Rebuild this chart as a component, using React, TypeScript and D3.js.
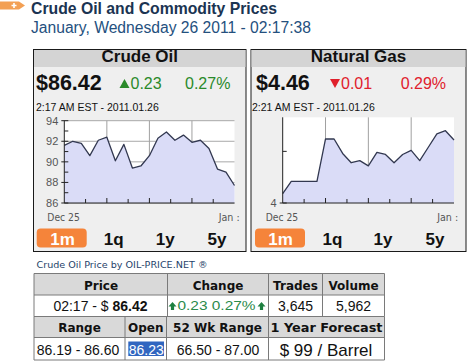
import React from "react";
import * as d3 from "d3";

const crudeValues = [91.6, 92.0, 91.8, 90.6, 92.1, 92.4, 90.1, 91.7, 89.4, 89.6, 90.6, 92.3, 92.9, 92.1, 92.6, 91.9, 92.1, 91.3, 89.3, 89.0, 87.7];
const gasValues = [4.09, 4.21, 4.21, 4.21, 4.21, 4.62, 4.62, 4.48, 4.39, 4.41, 4.36, 4.49, 4.47, 4.39, 4.47, 4.51, 4.41, 4.54, 4.67, 4.70, 4.61];
const crudeTicks = [86, 88, 90, 92, 94];
const crudeMinorTicks = [87, 89, 91, 93];
const gasTicks = [4];
const gasMinorTicks = [4.5];
const xStartLabel = "Dec 25";
const xEndLabel = "Jan :";
const ranges = ["1m", "1q", "1y", "5y"];

const SANS = "'Liberation Sans', Arial, sans-serif";
const VERD = "'DejaVu Sans', Verdana, sans-serif";

type ChartProps = {
  id: string;
  values: number[];
  domain: [number, number];
  x0: number; x1: number; y0: number; y1: number;
  ticks: number[]; minor: number[]; hGrid: boolean;
  labelStartX: number; labelEndX: number;
};

function MiniChart(p: ChartProps) {
  const x = d3.scaleLinear().domain([0, p.values.length - 1]).range([p.x0, p.x1]);
  const y = d3.scaleLinear().domain(p.domain).range([p.y1, p.y0]);
  const area = d3.area<number>().x((_, i) => x(i)).y0(p.y1).y1((d) => y(d));
  const line = d3.line<number>().x((_, i) => x(i)).y((d) => y(d));
  const n = p.values.length - 1;
  const vGrid = [n / 4, n / 2, (3 * n) / 4];
  const minorX = [n / 8, (3 * n) / 8, (5 * n) / 8, (7 * n) / 8];
  return (
    <g>
      <rect x={p.x0} y={p.y0} width={p.x1 - p.x0} height={p.y1 - p.y0} fill="#ffffff" />
      {p.hGrid && p.ticks.map((t) => (
        <line key={t} x1={p.x0} x2={p.x1} y1={y(t)} y2={y(t)} stroke="#a8a8a8" strokeWidth={1} />
      ))}
      {vGrid.map((g) => (
        <line key={g} x1={x(g)} x2={x(g)} y1={p.y0} y2={p.y1} stroke="#a0a0a0" strokeWidth={1} />
      ))}
      <path d={area(p.values) || ""} fill="#dadcf7" />
      <path d={line(p.values) || ""} fill="none" stroke="#323850" strokeWidth={1.3} strokeLinejoin="round" />
      <line x1={p.x0} x2={p.x0} y1={p.y0} y2={p.y1} stroke="#222" strokeWidth={1} />
      <line x1={p.x0} x2={p.x1} y1={p.y1} y2={p.y1} stroke="#222" strokeWidth={1} />
      {p.ticks.map((t) => (
        <g key={t}>
          <line x1={p.x0 - 3} x2={p.x0 + 4} y1={y(t)} y2={y(t)} stroke="#222" />
          <text x={p.x0 - 6} y={y(t) + 4} textAnchor="end" fontFamily={SANS} fontSize={11} fill="#555">{t}</text>
        </g>
      ))}
      {p.minor.map((t) => (
        <line key={t} x1={p.x0} x2={p.x0 + 4} y1={y(t)} y2={y(t)} stroke="#222" />
      ))}
      {minorX.map((m) => (
        <line key={m} x1={x(m)} x2={x(m)} y1={p.y1 - 4} y2={p.y1} stroke="#222" />
      ))}
      {vGrid.map((g) => (
        <line key={"t" + g} x1={x(g)} x2={x(g)} y1={p.y1 - 5} y2={p.y1} stroke="#222" />
      ))}
      <text x={p.labelStartX} y={221} fontFamily={VERD} fontSize={10} fill="#555" textLength={32.5} lengthAdjust="spacingAndGlyphs">{xStartLabel}</text>
      <text x={p.labelEndX} y={221} fontFamily={VERD} fontSize={10} fill="#555" textLength={21} lengthAdjust="spacingAndGlyphs">{xEndLabel}</text>
    </g>
  );
}

type PanelProps = {
  left: number; right: number; title: string; price: string; change: string; pct: string;
  up: boolean; stamp: string; stampX: number;
  priceX: number; changeX: number; pctX: number;
  btnX: number; btnCenters: number[];
  children: React.ReactNode;
};

function Panel(p: PanelProps) {
  const color = p.up ? "#2a8a2a" : "#e0202c";
  const cx = (p.left + p.right) / 2;
  return (
    <g>
      <rect x={p.left} y={49.5} width={p.right - p.left} height={202} fill="#efefef" stroke="#1a1a1a" strokeWidth={1} />
      <rect x={p.left + 0.5} y={50} width={p.right - p.left - 1} height={17} fill="#d4d4d4" />
      <text x={cx} y={62} textAnchor="middle" fontFamily={SANS} fontWeight="bold" fontSize={17} fill="#111">{p.title}</text>
      <text x={p.priceX} y={90} fontFamily={SANS} fontWeight="bold" fontSize={21.5} fill="#111">{p.price}</text>
      <g>
        {p.up ? (
          <path d={`M${p.changeX},88 L${p.changeX + 5},79 L${p.changeX + 10},88 Z`} fill={color} />
        ) : (
          <path d={`M${p.changeX},79 L${p.changeX + 10},79 L${p.changeX + 5},88 Z`} fill={color} />
        )}
        <text x={p.changeX + 11} y={88.5} fontFamily={SANS} fontSize={16} fill={color}>{p.change}</text>
      </g>
      <text x={p.pctX} y={88.5} fontFamily={SANS} fontSize={16} fill={color}>{p.pct}</text>
      <text x={p.stampX} y={111} fontFamily={SANS} fontSize={10.5} fill="#111">{p.stamp}</text>
      {p.children}
      <rect x={p.btnX} y={228.5} width={50} height={19} rx={4} fill="#f5843a" />
      {ranges.map((r, i) => (
        <text key={r} x={p.btnCenters[i]} y={245} textAnchor="middle" fontFamily={SANS} fontWeight="bold" fontSize={17} fill={i === 0 ? "#ffffff" : "#111"}>{r}</text>
      ))}
    </g>
  );
}

const cols1 = [34, 167.5, 268.5, 322.5, 384.5];
const cols2 = [34, 125, 166.5, 268.5, 384.5];
const rowsY = [273.5, 295, 316.5, 337.5, 360];

function UpArrow({ x, y }: { x: number; y: number }) {
  return <path d={`M${x},${y} L${x + 4},${y + 4.5} L${x + 1.6},${y + 4.5} L${x + 1.6},${y + 8} L${x - 1.6},${y + 8} L${x - 1.6},${y + 4.5} L${x - 4},${y + 4.5} Z`} fill="#1e8040" />;
}

export default function App() {
  return (
    <svg width={467} height={362} style={{ position: "absolute", left: 0, top: 0, background: "#fff" }}>
      {/* header */}
      <path d="M0,1.5 L19,1.5 L25,5.5 L19,9.5 L0,9.5 Z" fill="#f3a054" />
      <path d="M11.5,5.5 L16.5,5.5 M14,3 L14,8" stroke="#fff" strokeWidth={1.6} />
      <text x={31} y={13.5} fontFamily={SANS} fontWeight="bold" fontSize={17} fill="#1b3452" textLength={246} lengthAdjust="spacingAndGlyphs">Crude Oil and Commodity Prices</text>
      <text x={31} y={33} fontFamily={SANS} fontSize={16} fill="#24507e" textLength={280} lengthAdjust="spacingAndGlyphs">January, Wednesday 26 2011 - 02:17:38</text>

      <Panel left={33.5} right={246} title="Crude Oil" price="$86.42" change="0.23" pct="0.27%" up={true}
        stamp="2:17 AM EST - 2011.01.26" stampX={36} priceX={36} changeX={119.5} pctX={185}
        btnX={36.7} btnCenters={[62.5, 113.7, 165.3, 217]}>
        <MiniChart id="c1" values={crudeValues} domain={[86, 94]} x0={64.3} x1={234.5} y0={120.7} y1={203}
          ticks={crudeTicks} minor={crudeMinorTicks} hGrid={true} labelStartX={47.3} labelEndX={218.7} />
      </Panel>
      <Panel left={251} right={466} title="Natural Gas" price="$4.46" change="0.01" pct="0.29%" up={false}
        stamp="2:21 AM EST - 2011.01.26" stampX={252} priceX={256} changeX={330} pctX={400.7}
        btnX={255} btnCenters={[280.5, 332.5, 383, 435]}>
        <MiniChart id="c2" values={gasValues} domain={[4, 4.83]} x0={282.7} x1={454} y0={117.3} y1={203}
          ticks={gasTicks} minor={gasMinorTicks} hGrid={false} labelStartX={265.7} labelEndX={437.2} />
      </Panel>

      {/* table */}
      <text x={36.5} y={267.5} fontFamily={VERD} fontSize={9} fill="#1f3f6a" textLength={171} lengthAdjust="spacingAndGlyphs">Crude Oil Price by OIL-PRICE.NET ®</text>
      <rect x={34} y={rowsY[0]} width={350.5} height={rowsY[1] - rowsY[0]} fill="#d9d9d9" />
      <rect x={34} y={rowsY[2]} width={350.5} height={rowsY[3] - rowsY[2]} fill="#d9d9d9" />
      <rect x={128.3} y={341.5} width={35.7} height={14.5} fill="#3166c0" />
      {rowsY.map((r) => (
        <line key={r} x1={34} x2={384.5} y1={r} y2={r} stroke="#7a7a7a" />
      ))}
      {cols1.map((c) => (
        <line key={"a" + c} x1={c} x2={c} y1={rowsY[0]} y2={rowsY[2]} stroke="#7a7a7a" />
      ))}
      {cols2.map((c) => (
        <line key={"b" + c} x1={c} x2={c} y1={rowsY[2]} y2={rowsY[4]} stroke="#7a7a7a" />
      ))}
      <g fontFamily={VERD} fontWeight="bold" fontSize={12} fill="#111" textAnchor="middle">
        <text x={101} y={289.5}>Price</text>
        <text x={218} y={289.5}>Change</text>
        <text x={295.5} y={289.5}>Trades</text>
        <text x={353.5} y={289.5}>Volume</text>
        <text x={79.5} y={332}>Range</text>
        <text x={145.8} y={332}>Open</text>
        <text x={217.5} y={332}>52 Wk Range</text>
        <text x={326.5} y={332} textLength={112} lengthAdjust="spacingAndGlyphs">1 Year Forecast</text>
      </g>
      <g fontFamily={SANS} fontSize={14} fill="#111" textAnchor="middle">
        <text x={100.5} y={310.5}><tspan>02:17 - $ </tspan><tspan fontWeight="bold">86.42</tspan></text>
        <text x={295.5} y={310.5}>3,645</text>
        <text x={353.5} y={310.5}>5,962</text>
        <text x={78} y={355}>86.19 - 86.60</text>
        <text x={146.2} y={355} fill="#fff">86.23</text>
        <text x={218} y={355}>66.50 - 87.00</text>
        <text x={326} y={356} fontSize={17}>$ 99 / Barrel</text>
      </g>
      <UpArrow x={172.5} y={302} />
      <text x={177.5} y={310} fontFamily={SANS} fontSize={13} fill="#2a8a4a" textLength={78} lengthAdjust="spacingAndGlyphs">0.23 0.27%</text>
      <UpArrow x={261.5} y={302} />
    </svg>
  );
}
